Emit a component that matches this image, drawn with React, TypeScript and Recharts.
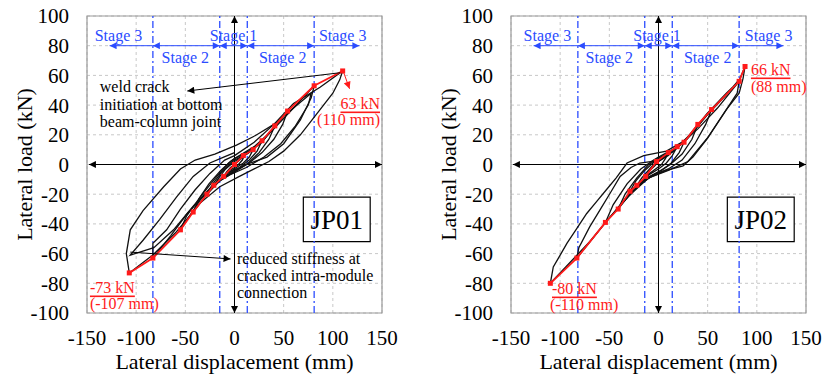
import React from 'react';
import {
  LineChart,
  Line,
  XAxis,
  YAxis,
  CartesianGrid,
  ReferenceLine,
  ReferenceArea,
  ReferenceDot,
  Label,
} from 'recharts';

type Pt = [number, number];

const xTicks = [-150, -100, -50, 0, 50, 100, 150];
const yTicks = [-100, -80, -60, -40, -20, 0, 20, 40, 60, 80, 100];

// JP01 cycles: [lateral displacement (mm), lateral load (kN)]
const jp01Loop1: Pt[] = [[0, 0], [5, 3], [10, 6], [8, 3], [4, 0], [0, -2], [-5, -4], [-11, -8], [-8, -5], [-4, -2], [0, 0]];
const jp01Loop2: Pt[] = [[0, 0], [10, 6], [19, 10], [15, 5], [9, 1], [2, -2], [-10, -7], [-21, -14], [-16, -9], [-9, -3], [-2, 1], [0, 2]];
const jp01Loop3: Pt[] = [[0, 2], [10, 6], [20, 11], [28, 16], [23, 9], [15, 3], [5, -2], [-8, -6], [-18, -12], [-28, -20], [-22, -13], [-13, -5], [-4, 1], [0, 3]];
const jp01Loop4: Pt[] = [[0, 3], [12, 7], [28, 15], [41, 26], [35, 17], [25, 8], [14, 1], [2, -4], [-12, -9], [-28, -20], [-42, -32], [-36, -23], [-26, -13], [-14, -4], [-4, 2], [0, 4]];
const jp01Loop5: Pt[] = [[0, 4], [15, 9], [30, 17], [41, 25], [54, 36], [49, 27], [40, 17], [28, 8], [15, 1], [0, -5], [-18, -12], [-35, -24], [-55, -44], [-49, -35], [-35, -22], [-18, -8], [-6, 1], [0, 4]];
const jp01Loop6: Pt[] = [[0, 4], [20, 12], [40, 24], [60, 38], [81, 53], [78, 45], [67, 30], [50, 14], [33, 5], [12, 0], [0, -4], [-15, -10], [-30, -20], [-48, -33], [-65, -48], [-83, -63], [-83, -53], [-69, -44], [-55, -30], [-40, -17], [-25, -6], [-10, 3], [0, 6]];
const jp01Loop7: Pt[] = [[0, 6], [20, 15], [40, 27], [60, 41], [87, 52], [110, 63], [107, 57], [100, 48], [87, 37], [67, 20], [50, 9], [35, 2], [20, -3], [5, -8], [-15, -15], [-35, -26], [-60, -46], [-83, -61], [-107, -73], [-110, -60], [-106, -44], [-93, -31], [-72, -15], [-55, -3], [-40, 3], [-20, 7], [2, 13], [20, 19]];
const jp01Loop8: Pt[] = [[20, 19], [40, 27], [60, 38], [78, 48], [75, 40], [62, 26], [47, 14], [30, 5], [12, -2], [-5, -7], [-22, -14], [-42, -28], [-62, -44], [-82, -56], [-106, -61], [-93, -51], [-76, -37], [-59, -22], [-42, -8], [-25, 1], [-11, 5], [0, 8]];
const jp01Envelope: Pt[] = [[-107, -73], [-83, -63], [-55, -44], [-42, -32], [-28, -20], [-21, -14], [-11, -8], [0, 0], [9, 6], [19, 10], [28, 16], [41, 26], [54, 36], [81, 53], [110, 63]];
const jp01Stages = [-83, -15, 13, 81];

// JP02 cycles
const jp02Loop1: Pt[] = [[0, 2], [5, 5], [10, 8], [7, 4], [3, 0], [-3, -3], [-13, -8], [-9, -4], [-4, -1], [0, 2]];
const jp02Loop2: Pt[] = [[0, 2], [10, 6], [19, 12], [14, 6], [8, 1], [0, -3], [-10, -7], [-22, -14], [-17, -9], [-9, -3], [-2, 2], [0, 3]];
const jp02Loop3: Pt[] = [[0, 3], [12, 8], [26, 15], [21, 8], [13, 1], [3, -4], [-12, -9], [-29, -18], [-23, -11], [-14, -4], [-4, 2], [0, 4]];
const jp02Loop4: Pt[] = [[0, 4], [15, 9], [28, 17], [40, 27], [34, 17], [24, 7], [12, 0], [0, -5], [-15, -11], [-28, -19], [-41, -30], [-34, -20], [-22, -9], [-10, 0], [0, 4]];
const jp02Loop5: Pt[] = [[0, 4], [18, 11], [35, 22], [54, 37], [48, 27], [37, 14], [24, 3], [10, -3], [-5, -7], [-20, -14], [-38, -27], [-54, -39], [-46, -27], [-32, -13], [-18, -3], [-5, 3], [0, 5]];
const jp02Loop6: Pt[] = [[0, 5], [20, 12], [40, 24], [60, 38], [82, 56], [80, 48], [70, 38], [50, 18], [30, 2], [10, -4], [-10, -9], [-30, -21], [-55, -40], [-83, -63], [-81, -56], [-70, -42], [-59, -30], [-48, -18], [-39, -8], [-28, -2], [-19, 1], [-8, 2], [2, 3]];
const jp02Loop7: Pt[] = [[2, 3], [15, 9], [30, 18], [49, 33], [69, 47], [83, 58], [88, 66], [86, 58], [82, 48], [69, 37], [49, 17], [35, 5], [25, -1], [8, -4], [-10, -9], [-30, -20], [-50, -36], [-70, -52], [-90, -66], [-110, -80], [-107, -69], [-100, -61], [-93, -53], [-83, -43], [-73, -33], [-63, -25], [-53, -17], [-43, -9], [-32, 1], [-15, 6], [8, 9], [29, 17], [49, 34], [69, 48], [83, 57]];
const jp02Envelope: Pt[] = [[-110, -80], [-83, -63], [-54, -39], [-41, -30], [-29, -18], [-22, -14], [-13, -8], [-2, 2], [10, 8], [19, 12], [26, 15], [40, 27], [54, 37], [82, 56], [88, 66]];
const jp02Stages = [-82, -14, 14, 82];

const FONT = "'Liberation Serif', 'DejaVu Serif', serif";
const BLUE = '#2b4cff';
const RED = '#ff1a1a';

const toRows = (pts: Pt[]) => pts.map(([x, y]) => ({ x, y }));

type Note = { x: number; y: number; text: string; color?: string; size?: number; anchor?: string; underline?: boolean };

function textDot(key: string, n: Note) {
  return (
    <ReferenceDot
      key={key}
      x={n.x}
      y={n.y}
      r={0}
      shape={(p: any) => (
        <text
          x={p.cx}
          y={p.cy}
          fill={n.color || '#000'}
          fontSize={n.size || 16}
          style={{ fontFamily: FONT }}
          textAnchor={n.anchor || 'start'}
          dominantBaseline="central"
          textDecoration={n.underline ? 'underline' : undefined}
        >
          {n.text}
        </text>
      )}
    />
  );
}

function arrowLine(key: string, a: Pt, b: Pt, color: string, marker: string, both: boolean) {
  return (
    <ReferenceLine
      key={key}
      segment={[{ x: a[0], y: a[1] }, { x: b[0], y: b[1] }]}
      shape={(p: any) => (
        <line
          x1={p.x1}
          y1={p.y1}
          x2={p.x2}
          y2={p.y2}
          stroke={color}
          strokeWidth={1}
          markerEnd={`url(#${marker})`}
          markerStart={both ? `url(#${marker})` : undefined}
        />
      )}
    />
  );
}

const YTitle = (props: any) => {
  const vb = props.viewBox;
  const cx = vb.x + 10;
  const cy = vb.y + vb.height / 2;
  return (
    <text
      transform={`translate(${cx},${cy}) rotate(-90)`}
      textAnchor="middle"
      dominantBaseline="central"
      fontSize={22}
      style={{ fontFamily: FONT }}
      fill="#000"
    >
      Lateral load (kN)
    </text>
  );
};

interface PanelProps {
  id: string;
  name: string;
  loops: Pt[][];
  envelope: Pt[];
  stages: number[];
  left: number;
  right: number;
  stageText: number[];
  notes: Note[];
  arrows: { a: Pt; b: Pt; color: string }[];
}

function Panel({ id, name, loops, envelope, stages, left, right, stageText, notes, arrows }: PanelProps) {
  const tickStyle = { fill: '#000', fontSize: 21, style: { fontFamily: FONT } };
  const [b1, b2, b3, b4] = stages;
  return (
    <LineChart width={412} height={378} margin={{ top: 16, right, bottom: 3, left }}>
      <defs>
        {[
          ['k', '#000'],
          ['b', BLUE],
          ['r', RED],
        ].map(([s, c]) => (
          <marker
            key={s}
            id={`${id}-${s}`}
            viewBox="0 0 10 10"
            refX="10"
            refY="5"
            markerWidth="8"
            markerHeight="7"
            markerUnits="userSpaceOnUse"
            orient="auto-start-reverse"
          >
            <path d="M0,0 L10,5 L0,10 z" fill={c} />
          </marker>
        ))}
      </defs>
      <CartesianGrid strokeDasharray="3 3" stroke="#c8c8c8" />
      <XAxis
        type="number"
        dataKey="x"
        domain={[-150, 150]}
        ticks={xTicks}
        interval={0}
        axisLine={false}
        tickLine={false}
        tick={tickStyle}
        tickMargin={11}
        height={62}
      >
        <Label value="Lateral displacement (mm)" position="insideBottom" offset={6} fontSize={22} style={{ fontFamily: FONT }} fill="#000" />
      </XAxis>
      <YAxis
        type="number"
        dataKey="y"
        domain={[-100, 100]}
        ticks={yTicks}
        interval={0}
        axisLine={false}
        tickLine={false}
        tick={tickStyle}
        tickMargin={12}
        width={73}
      >
        <Label content={YTitle} />
      </YAxis>
      <ReferenceArea x1={-150} x2={150} y1={-100} y2={100} fill="none" stroke="#9a9a9a" strokeWidth={1.2} />
      {stages.map((s) => (
        <ReferenceLine key={`st${s}`} x={s} stroke={BLUE} strokeWidth={1.3} strokeDasharray="7 3 2 3" />
      ))}
      {arrowLine('ax', [-148, 0], [150, 0], '#000', `${id}-k`, true)}
      {arrowLine('ay', [0, -100], [0, 100], '#000', `${id}-k`, true)}
      {arrowLine('s1', [b1, 80], [-127, 80], BLUE, `${id}-b`, false)}
      {arrowLine('s2', [b1, 80], [b2, 80], BLUE, `${id}-b`, true)}
      {arrowLine('s3', [b2, 80], [b3, 80], BLUE, `${id}-b`, true)}
      {arrowLine('s4', [b3, 80], [b4, 80], BLUE, `${id}-b`, true)}
      {arrowLine('s5', [b4, 80], [127, 80], BLUE, `${id}-b`, false)}
      {textDot('t1', { x: stageText[0], y: 87, text: 'Stage 3', color: BLUE, anchor: 'middle' })}
      {textDot('t2', { x: stageText[1], y: 72, text: 'Stage 2', color: BLUE, anchor: 'middle' })}
      {textDot('t3', { x: stageText[2], y: 87, text: 'Stage 1', color: BLUE, anchor: 'middle' })}
      {textDot('t4', { x: stageText[3], y: 72, text: 'Stage 2', color: BLUE, anchor: 'middle' })}
      {textDot('t5', { x: stageText[4], y: 87, text: 'Stage 3', color: BLUE, anchor: 'middle' })}
      <ReferenceArea
        x1={70}
        x2={138}
        y1={-52}
        y2={-22}
        fill="#fff"
        fillOpacity={1}
        stroke="#000"
        strokeWidth={1.2}
        label={{ value: name, position: 'center', fontSize: 27, style: { fontFamily: FONT }, fill: '#000' }}
      />
      {loops.map((loop, i) => (
        <Line
          key={`loop${i}`}
          data={toRows(loop)}
          dataKey="y"
          type="linear"
          stroke="#111"
          strokeWidth={1.3}
          dot={false}
          activeDot={false}
          isAnimationActive={false}
        />
      ))}
      <Line
        data={toRows(envelope)}
        dataKey="y"
        type="linear"
        stroke={RED}
        strokeWidth={1.8}
        dot={(p: any) => <rect key={`d${p.index}`} x={p.cx - 2.5} y={p.cy - 2.5} width={5} height={5} fill={RED} />}
        activeDot={false}
        isAnimationActive={false}
      />
      {arrows.map((ar, i) => arrowLine(`ar${i}`, ar.a, ar.b, ar.color, `${id}-${ar.color === RED ? 'r' : 'k'}`, false))}
      {notes.map((n, i) => textDot(`n${i}`, n))}
    </LineChart>
  );
}

export default function App() {
  return (
    <div style={{ position: 'absolute', left: 0, top: 0, width: 824, height: 378, display: 'flex', background: '#fff', fontFamily: FONT }}>
      <Panel
        id="jp01"
        name="JP01"
        loops={[jp01Loop1, jp01Loop2, jp01Loop3, jp01Loop4, jp01Loop5, jp01Loop6, jp01Loop7, jp01Loop8]}
        envelope={jp01Envelope}
        stages={jp01Stages}
        left={14}
        right={30}
        stageText={[-118, -50, -1, 49, 110]}
        arrows={[
          { a: [110, 62], b: [-48, 49.5], color: '#000' },
          { a: [111, 62], b: [117, 51], color: RED },
          { a: [-106, -59], b: [-4, -63.6], color: '#000' },
        ]}
        notes={[
          { x: -137, y: 52.2, text: 'weld crack' },
          { x: -137, y: 40.5, text: 'initiation at bottom' },
          { x: -137, y: 28.8, text: 'beam-column joint' },
          { x: 148, y: 41.4, text: '63 kN', color: RED, anchor: 'end', underline: true },
          { x: 148, y: 30, text: '(110 mm)', color: RED, anchor: 'end' },
          { x: -147, y: -82.5, text: '-73 kN', color: RED, underline: true },
          { x: -147, y: -93.5, text: '(-107 mm)', color: RED },
          { x: 2.5, y: -63, text: 'reduced stiffness at' },
          { x: 2.5, y: -75, text: 'cracked intra-module' },
          { x: 2.5, y: -86.5, text: 'connection' },
        ]}
      />
      <Panel
        id="jp02"
        name="JP02"
        loops={[jp02Loop1, jp02Loop2, jp02Loop3, jp02Loop4, jp02Loop5, jp02Loop6, jp02Loop7]}
        envelope={jp02Envelope}
        stages={jp02Stages}
        left={26}
        right={18}
        stageText={[-113, -50, -1.5, 50, 112]}
        arrows={[]}
        notes={[
          { x: 94, y: 64.3, text: '66 kN', color: RED, underline: true },
          { x: 94, y: 52.2, text: '(88 mm)', color: RED },
          { x: -108.3, y: -83.2, text: '-80 kN', color: RED, underline: true },
          { x: -110.3, y: -94.6, text: '(-110 mm)', color: RED },
        ]}
      />
    </div>
  );
}
